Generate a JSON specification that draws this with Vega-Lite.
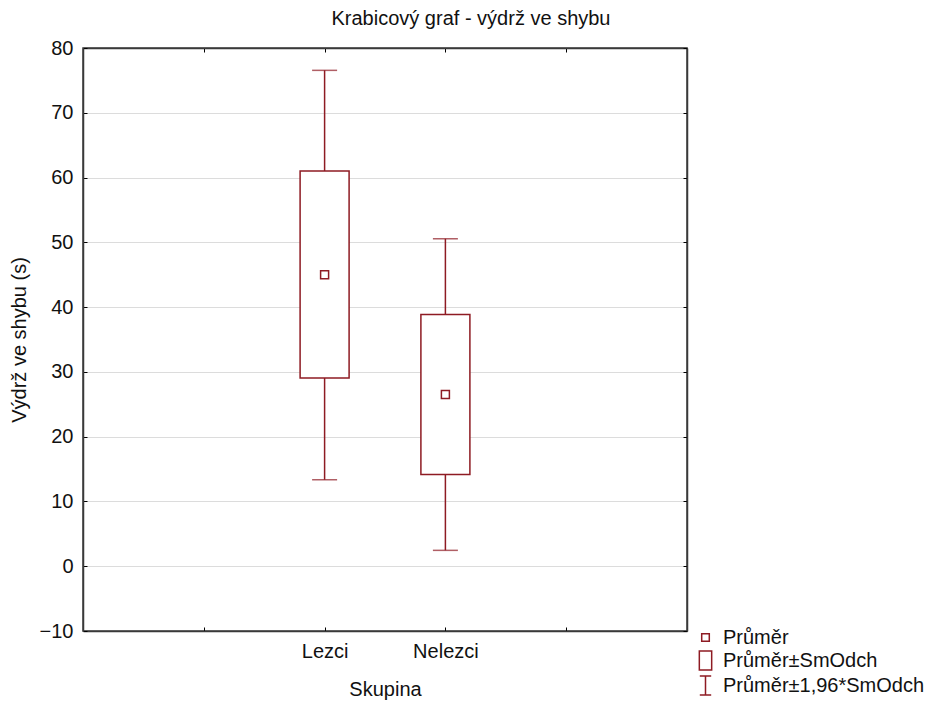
{
  "$schema": "https://vega.github.io/schema/vega-lite/v6.json",
  "width": 604,
  "height": 583,
  "autosize": {"type": "none"},
  "padding": {"left": 83, "top": 48, "right": 247, "bottom": 71},
  "background": "white",
  "title": {"text": "Krabicový graf - výdrž ve shybu", "anchor": "middle", "dx": 86, "offset": 9, "fontSize": 20, "fontWeight": "normal", "font": "Liberation Sans", "color": "#111111"},
  "data": {"values": [
    {"skupina": "Lezci", "prumer": 45.0, "sd_lo": 29.05, "sd_hi": 61.0, "ci_lo": 13.35, "ci_hi": 76.55},
    {"skupina": "Nelezci", "prumer": 26.5, "sd_lo": 14.15, "sd_hi": 38.85, "ci_lo": 2.45, "ci_hi": 50.55}
  ]},
  "config": {
    "view": {"stroke": "#3a3a3a", "strokeWidth": 1.5},
    "font": "Liberation Sans",
    "axis": {"labelFont": "Liberation Sans", "titleFont": "Liberation Sans", "labelColor": "#111111", "titleColor": "#111111", "labelFontSize": 20, "titleFontSize": 20, "titleFontWeight": "normal", "domainColor": "#3a3a3a", "domainWidth": 1.5, "tickColor": "#000000"}
  },
  "resolve": {"axis": {"x": "independent", "y": "independent"}},
  "layer": [
    {
      "mark": {"type": "rule", "color": "#8E1B23", "strokeWidth": 1.5},
      "encoding": {
        "x": {"field": "skupina", "type": "nominal", "scale": {"type": "point", "domain": ["_1", "Lezci", "Nelezci", "_4"], "padding": 1},
          "axis": {"orient": "top", "labels": false, "title": null, "domain": true, "ticks": true, "tickSize": -4, "grid": false}},
        "y": {"field": "ci_lo", "type": "quantitative",
          "axis": {"orient": "right", "labels": false, "title": null, "domain": true, "ticks": true, "tickSize": -4, "grid": false, "values": [-10, 0, 10, 20, 30, 40, 50, 60, 70, 80]}},
        "y2": {"field": "ci_hi"}
      }
    },
    {
      "mark": {"type": "tick", "color": "#8E1B23", "thickness": 1.5, "size": 25, "orient": "horizontal"},
      "encoding": {
        "x": {"field": "skupina", "type": "nominal", "axis": null},
        "y": {"field": "ci_lo", "type": "quantitative", "axis": null}
      }
    },
    {
      "mark": {"type": "tick", "color": "#8E1B23", "thickness": 1.5, "size": 25, "orient": "horizontal"},
      "encoding": {
        "x": {"field": "skupina", "type": "nominal", "axis": null},
        "y": {"field": "ci_hi", "type": "quantitative", "axis": null}
      }
    },
    {
      "mark": {"type": "bar", "size": 49, "fill": "#ffffff", "stroke": "#8E1B23", "strokeWidth": 1.5},
      "encoding": {
        "x": {"field": "skupina", "type": "nominal",
          "axis": {"orient": "bottom", "title": "Skupina", "labelExpr": "slice(datum.value, 0, 1) == '_' ? '' : datum.value", "labelAngle": 0, "domain": true, "ticks": true, "tickSize": -4, "labelPadding": 14, "titlePadding": 18, "grid": false}},
        "y": {"field": "sd_lo", "type": "quantitative",
          "scale": {"domain": [-10, 80], "nice": false},
          "axis": {"orient": "left", "title": "Výdrž ve shybu (s)", "values": [-10, 0, 10, 20, 30, 40, 50, 60, 70, 80], "grid": true, "gridColor": "#dcdcdc", "domain": true, "ticks": true, "tickSize": -4, "labelPadding": 14, "titlePadding": 10}},
        "y2": {"field": "sd_hi"}
      }
    },
    {
      "mark": {"type": "point", "filled": false, "color": "#8E1B23", "strokeWidth": 1.5, "size": 400, "opacity": 1},
      "encoding": {
        "x": {"field": "skupina", "type": "nominal", "axis": null},
        "y": {"field": "prumer", "type": "quantitative", "axis": null},
        "shape": {"datum": "Průměr",
          "scale": {"domain": ["Průměr", "Průměr±SmOdch", "Průměr±1,96*SmOdch"],
            "range": ["M-0.4,-0.4L0.4,-0.4L0.4,0.4L-0.4,0.4Z", "M-0.65,-1L0.65,-1L0.65,1L-0.65,1Z", "M-0.6,-1L0.6,-1M0,-1L0,1M-0.6,1L0.6,1"]},
          "legend": {"title": null, "orient": "none", "legendX": 612, "legendY": 579, "labelFontSize": 20, "labelColor": "#111111", "labelFont": "Liberation Sans", "labelLimit": 400, "symbolSize": 361, "symbolStrokeColor": "#8E1B23", "symbolFillColor": "transparent", "symbolStrokeWidth": 1.5, "rowPadding": 0, "labelOffset": 7, "padding": 0}
        }
      }
    }
  ]
}
